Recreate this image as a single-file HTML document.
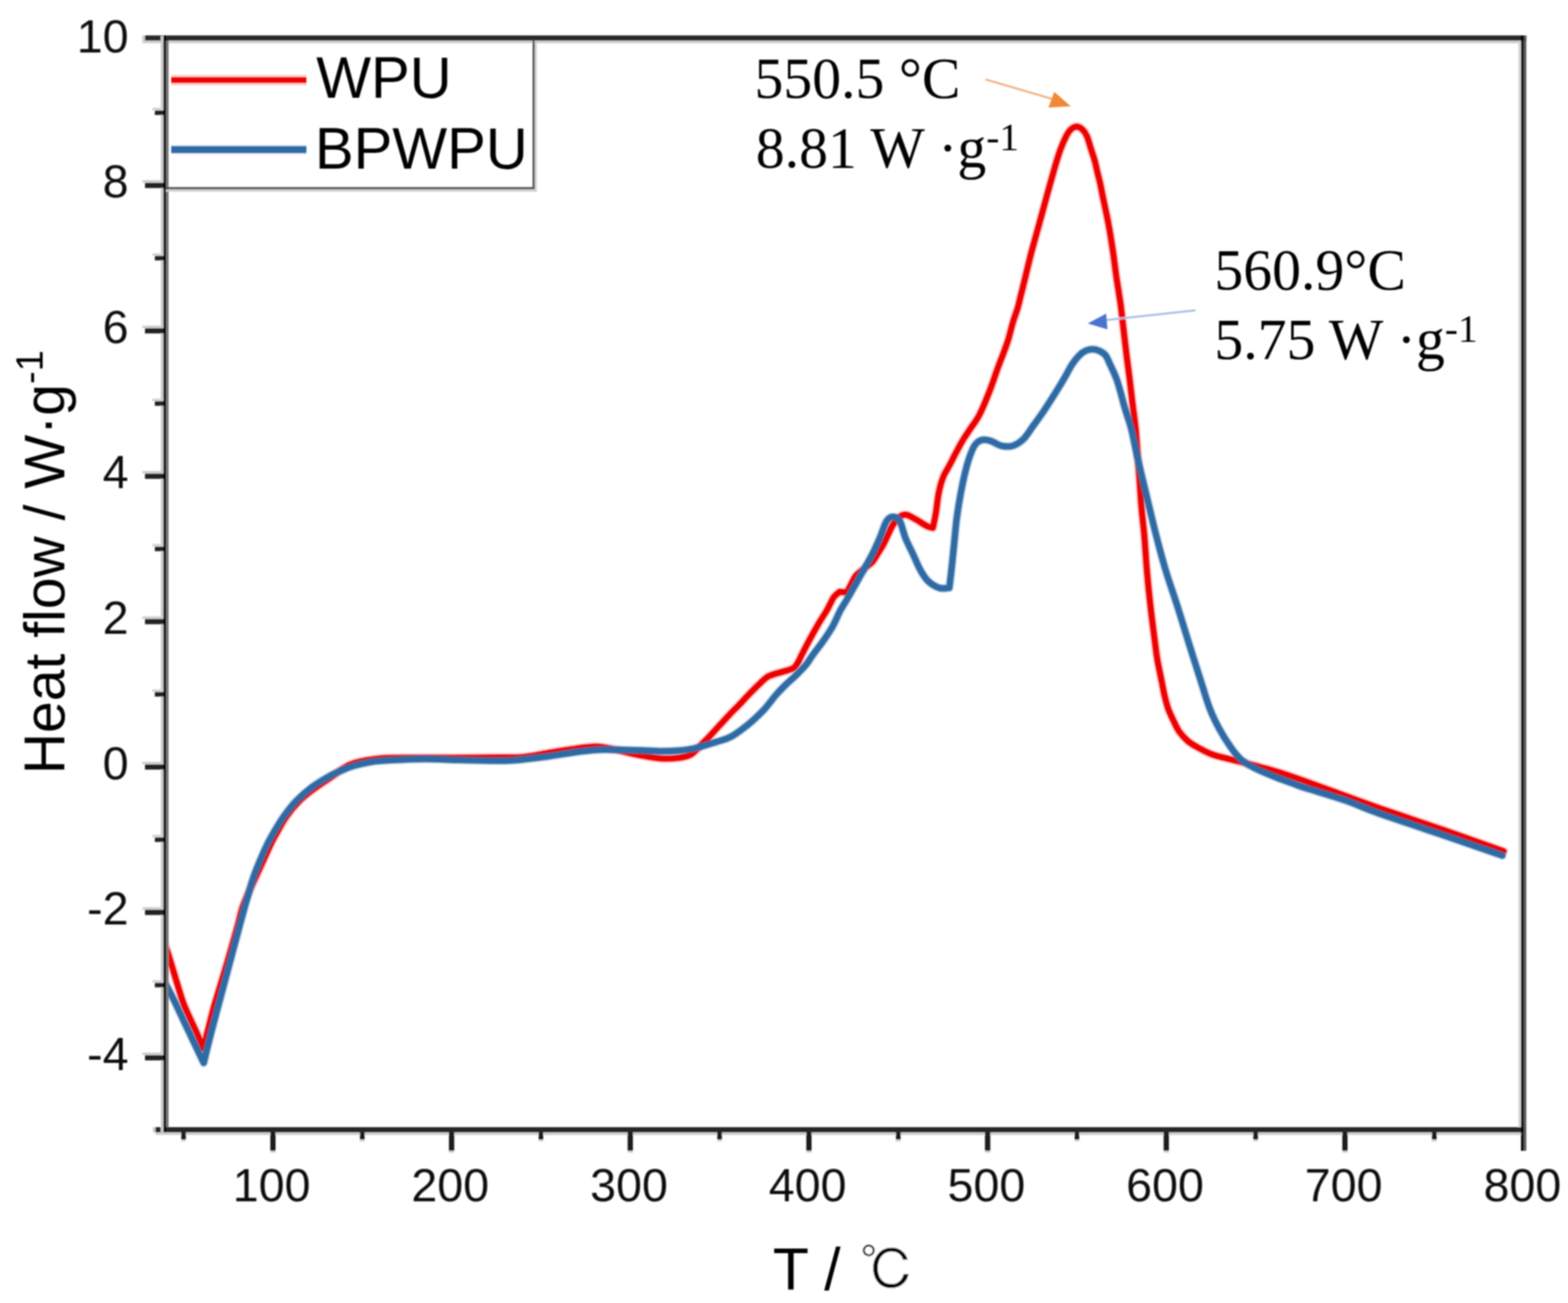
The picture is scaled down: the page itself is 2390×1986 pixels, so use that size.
<!DOCTYPE html>
<html><head><meta charset="utf-8"><title>Heat flow</title>
<style>html,body{margin:0;padding:0;background:#fff;}svg{display:block;}</style>
</head><body>
<svg width="2390" height="1986" viewBox="0 0 2390 1986">
<rect width="100%" height="100%" fill="#fff"/>
<defs><filter id="soft" x="0" y="0" width="100%" height="100%" filterUnits="userSpaceOnUse"><feGaussianBlur stdDeviation="0.9"/></filter></defs>
<g filter="url(#soft)">
<defs><clipPath id="pc"><rect x="249" y="50" width="2070" height="1670"/></clipPath></defs>
<g clip-path="url(#pc)" fill="none" stroke-linejoin="round" stroke-linecap="round">
<path d="M246.0,1425.0 C247.0,1427.7 249.5,1433.7 252.0,1441.0 C254.5,1448.3 258.0,1459.3 261.0,1469.0 C264.0,1478.7 266.9,1489.0 270.0,1499.0 C273.1,1509.0 276.2,1520.2 279.5,1529.0 C282.8,1537.8 286.1,1544.5 289.5,1552.0 C292.9,1559.5 296.2,1566.0 299.6,1573.7 C303.0,1581.4 308.3,1594.0 310.0,1598.0 C311.3,1592.7 315.3,1576.5 318.0,1566.0 C320.7,1555.5 323.2,1545.2 326.0,1535.0 C328.8,1524.8 332.0,1515.0 335.0,1505.0 C338.0,1495.0 341.0,1485.2 344.0,1475.0 C347.0,1464.8 349.9,1454.8 353.0,1444.0 C356.1,1433.2 359.7,1420.3 362.5,1410.0 C365.3,1399.7 367.1,1390.7 370.0,1382.0 C372.9,1373.3 376.5,1366.0 380.0,1358.0 C383.5,1350.0 387.3,1342.0 391.0,1334.0 C394.7,1326.0 398.3,1318.0 402.0,1310.0 C405.7,1302.0 409.8,1292.7 413.0,1286.0 C416.2,1279.3 417.6,1276.9 421.5,1270.0 C425.4,1263.1 430.8,1252.7 436.5,1244.5 C442.2,1236.3 448.9,1228.1 456.0,1221.0 C463.1,1213.9 471.0,1208.0 479.0,1202.0 C487.0,1196.0 496.8,1190.0 504.0,1185.0 C511.2,1180.0 516.0,1175.7 522.0,1172.0 C528.0,1168.3 530.3,1165.7 540.0,1163.0 C549.7,1160.3 565.0,1157.3 580.0,1156.0 C595.0,1154.7 610.0,1155.2 630.0,1155.0 C650.0,1154.8 678.3,1155.1 700.0,1155.0 C721.7,1154.9 744.0,1154.7 760.0,1154.5 C776.0,1154.3 783.7,1155.1 796.0,1154.0 C808.3,1152.9 821.5,1150.0 834.0,1148.0 C846.5,1146.0 858.5,1143.7 871.0,1142.0 C883.5,1140.3 897.5,1137.8 909.0,1138.0 C920.5,1138.2 929.8,1141.0 940.0,1143.0 C950.2,1145.0 958.7,1147.8 970.0,1150.0 C981.3,1152.2 997.2,1155.2 1008.0,1156.0 C1018.8,1156.8 1027.5,1156.0 1035.0,1155.0 C1042.5,1154.0 1047.5,1153.2 1053.0,1150.0 C1058.5,1146.8 1063.5,1140.3 1068.0,1136.0 C1072.5,1131.7 1076.3,1127.8 1080.0,1124.0 C1083.7,1120.2 1086.3,1117.0 1090.0,1113.0 C1093.7,1109.0 1098.0,1104.3 1102.0,1100.0 C1106.0,1095.7 1110.0,1091.2 1114.0,1087.0 C1118.0,1082.8 1121.7,1079.5 1126.0,1075.0 C1130.3,1070.5 1135.0,1065.2 1140.0,1060.0 C1145.0,1054.8 1150.8,1048.8 1156.0,1044.0 C1161.2,1039.2 1164.7,1034.4 1171.0,1031.0 C1177.3,1027.6 1187.7,1025.7 1194.0,1023.6 C1200.3,1021.5 1205.3,1020.8 1209.0,1018.5 C1212.7,1016.2 1213.8,1013.4 1216.0,1010.0 C1218.2,1006.6 1219.0,1003.8 1222.0,998.0 C1225.0,992.2 1229.7,983.0 1234.0,975.0 C1238.3,967.0 1243.6,957.6 1248.0,950.0 C1252.4,942.4 1256.8,936.3 1260.6,929.6 C1264.4,922.9 1267.8,914.6 1271.0,910.0 C1274.2,905.4 1278.5,903.3 1280.0,902.0 C1281.8,902.2 1289.2,902.8 1291.0,903.0 C1292.2,900.7 1295.7,893.3 1298.0,889.0 C1300.3,884.7 1301.7,880.8 1305.0,877.0 C1308.3,873.2 1313.8,869.5 1318.0,866.0 C1322.2,862.5 1326.5,860.0 1330.0,856.0 C1333.5,852.0 1336.2,846.5 1339.0,842.0 C1341.8,837.5 1344.5,833.7 1347.0,829.0 C1349.5,824.3 1351.7,818.8 1354.0,814.0 C1356.3,809.2 1358.5,804.0 1361.0,800.0 C1363.5,796.0 1366.5,792.5 1369.0,790.0 C1371.5,787.5 1373.7,785.8 1376.0,785.0 C1378.3,784.2 1379.7,783.9 1383.0,785.0 C1386.3,786.1 1391.2,789.0 1396.0,791.7 C1400.8,794.4 1407.7,799.2 1412.0,801.4 C1416.3,803.5 1420.2,804.1 1421.9,804.6 C1422.7,800.6 1425.4,788.6 1426.7,780.5 C1428.0,772.4 1428.8,763.1 1430.0,756.0 C1431.2,748.9 1432.5,743.3 1434.0,738.0 C1435.5,732.7 1437.3,727.8 1439.0,724.0 C1440.7,720.2 1442.2,718.3 1444.0,715.0 C1445.8,711.7 1448.0,707.8 1450.0,704.0 C1452.0,700.2 1454.0,695.8 1456.0,692.0 C1458.0,688.2 1460.2,684.3 1462.0,681.0 C1463.8,677.7 1465.0,675.3 1467.0,672.0 C1469.0,668.7 1471.8,664.3 1474.0,661.0 C1476.2,657.7 1476.8,656.8 1480.0,652.0 C1483.2,647.2 1488.3,641.2 1493.0,632.0 C1497.7,622.8 1503.3,609.0 1508.0,597.0 C1512.7,585.0 1517.5,570.0 1521.2,560.0 C1524.9,550.0 1527.4,544.2 1530.0,537.0 C1532.6,529.8 1534.7,524.7 1537.0,517.0 C1539.3,509.3 1541.7,498.8 1544.0,491.0 C1546.3,483.2 1549.0,476.8 1551.0,470.0 C1553.0,463.2 1554.3,456.7 1556.0,450.0 C1557.7,443.3 1559.2,437.5 1561.0,430.0 C1562.8,422.5 1565.0,413.3 1567.0,405.0 C1569.0,396.7 1570.5,390.5 1573.3,380.0 C1576.1,369.5 1580.1,355.4 1583.8,341.9 C1587.5,328.4 1592.7,309.3 1595.5,299.0 C1598.3,288.7 1599.1,285.7 1600.7,280.0 C1602.3,274.3 1603.5,270.3 1605.1,264.6 C1606.7,258.9 1608.5,252.0 1610.5,245.7 C1612.5,239.4 1614.4,233.0 1616.8,226.7 C1619.2,220.4 1622.5,212.7 1625.0,207.8 C1627.5,202.9 1629.3,200.0 1632.0,197.5 C1634.7,195.0 1638.0,193.0 1641.0,193.0 C1644.0,193.0 1647.4,195.0 1650.0,197.5 C1652.6,200.0 1654.7,202.9 1656.8,207.8 C1658.9,212.7 1660.8,220.4 1662.8,226.7 C1664.8,233.0 1667.1,239.4 1668.8,245.7 C1670.5,252.0 1671.8,258.9 1673.2,264.6 C1674.6,270.3 1675.7,274.1 1677.0,280.0 C1678.3,285.9 1678.9,289.8 1681.0,300.0 C1683.1,310.2 1686.9,327.2 1689.5,341.0 C1692.1,354.8 1694.3,369.2 1696.4,383.0 C1698.5,396.8 1699.9,410.3 1701.9,424.0 C1703.9,437.7 1706.4,451.3 1708.2,465.0 C1710.0,478.7 1711.5,493.5 1713.0,506.0 C1714.5,518.5 1715.6,528.5 1717.0,540.0 C1718.4,551.5 1720.0,562.8 1721.5,575.0 C1723.0,587.2 1724.4,599.8 1726.0,613.0 C1727.6,626.2 1729.6,639.5 1731.0,654.0 C1732.4,668.5 1733.4,685.7 1734.5,700.0 C1735.6,714.3 1736.6,727.5 1737.5,740.0 C1738.4,752.5 1738.9,762.5 1740.0,775.0 C1741.1,787.5 1742.7,799.2 1744.1,815.0 C1745.5,830.8 1746.6,851.7 1748.2,870.0 C1749.8,888.3 1751.6,906.7 1753.7,925.0 C1755.8,943.3 1758.9,966.7 1760.6,980.0 C1762.3,993.3 1762.3,995.0 1764.0,1005.0 C1765.7,1015.0 1769.2,1030.8 1771.0,1040.0 C1772.8,1049.2 1773.4,1053.3 1775.0,1060.0 C1776.6,1066.7 1778.3,1073.8 1780.5,1080.0 C1782.7,1086.2 1785.2,1091.2 1788.0,1097.0 C1790.8,1102.8 1793.3,1109.2 1797.0,1114.5 C1800.7,1119.8 1805.4,1125.0 1810.0,1129.0 C1814.6,1133.0 1818.2,1135.1 1824.5,1138.6 C1830.8,1142.1 1839.4,1146.8 1848.0,1150.0 C1856.6,1153.2 1867.7,1155.3 1876.0,1157.5 C1884.3,1159.7 1889.7,1160.8 1898.0,1163.0 C1906.3,1165.2 1916.5,1167.8 1926.0,1170.5 C1935.5,1173.2 1944.3,1175.6 1955.0,1179.0 C1965.7,1182.4 1976.8,1186.3 1990.0,1191.0 C2003.2,1195.7 2015.7,1200.3 2034.0,1207.0 C2052.3,1213.7 2072.3,1221.3 2100.0,1231.0 C2127.7,1240.7 2168.0,1253.9 2200.0,1265.0 C2232.0,1276.1 2276.7,1292.1 2292.0,1297.5" stroke="#EE0000" stroke-opacity="0.2" stroke-width="14"/>
<path d="M246.0,1425.0 C247.0,1427.7 249.5,1433.7 252.0,1441.0 C254.5,1448.3 258.0,1459.3 261.0,1469.0 C264.0,1478.7 266.9,1489.0 270.0,1499.0 C273.1,1509.0 276.2,1520.2 279.5,1529.0 C282.8,1537.8 286.1,1544.5 289.5,1552.0 C292.9,1559.5 296.2,1566.0 299.6,1573.7 C303.0,1581.4 308.3,1594.0 310.0,1598.0 C311.3,1592.7 315.3,1576.5 318.0,1566.0 C320.7,1555.5 323.2,1545.2 326.0,1535.0 C328.8,1524.8 332.0,1515.0 335.0,1505.0 C338.0,1495.0 341.0,1485.2 344.0,1475.0 C347.0,1464.8 349.9,1454.8 353.0,1444.0 C356.1,1433.2 359.7,1420.3 362.5,1410.0 C365.3,1399.7 367.1,1390.7 370.0,1382.0 C372.9,1373.3 376.5,1366.0 380.0,1358.0 C383.5,1350.0 387.3,1342.0 391.0,1334.0 C394.7,1326.0 398.3,1318.0 402.0,1310.0 C405.7,1302.0 409.8,1292.7 413.0,1286.0 C416.2,1279.3 417.6,1276.9 421.5,1270.0 C425.4,1263.1 430.8,1252.7 436.5,1244.5 C442.2,1236.3 448.9,1228.1 456.0,1221.0 C463.1,1213.9 471.0,1208.0 479.0,1202.0 C487.0,1196.0 496.8,1190.0 504.0,1185.0 C511.2,1180.0 516.0,1175.7 522.0,1172.0 C528.0,1168.3 530.3,1165.7 540.0,1163.0 C549.7,1160.3 565.0,1157.3 580.0,1156.0 C595.0,1154.7 610.0,1155.2 630.0,1155.0 C650.0,1154.8 678.3,1155.1 700.0,1155.0 C721.7,1154.9 744.0,1154.7 760.0,1154.5 C776.0,1154.3 783.7,1155.1 796.0,1154.0 C808.3,1152.9 821.5,1150.0 834.0,1148.0 C846.5,1146.0 858.5,1143.7 871.0,1142.0 C883.5,1140.3 897.5,1137.8 909.0,1138.0 C920.5,1138.2 929.8,1141.0 940.0,1143.0 C950.2,1145.0 958.7,1147.8 970.0,1150.0 C981.3,1152.2 997.2,1155.2 1008.0,1156.0 C1018.8,1156.8 1027.5,1156.0 1035.0,1155.0 C1042.5,1154.0 1047.5,1153.2 1053.0,1150.0 C1058.5,1146.8 1063.5,1140.3 1068.0,1136.0 C1072.5,1131.7 1076.3,1127.8 1080.0,1124.0 C1083.7,1120.2 1086.3,1117.0 1090.0,1113.0 C1093.7,1109.0 1098.0,1104.3 1102.0,1100.0 C1106.0,1095.7 1110.0,1091.2 1114.0,1087.0 C1118.0,1082.8 1121.7,1079.5 1126.0,1075.0 C1130.3,1070.5 1135.0,1065.2 1140.0,1060.0 C1145.0,1054.8 1150.8,1048.8 1156.0,1044.0 C1161.2,1039.2 1164.7,1034.4 1171.0,1031.0 C1177.3,1027.6 1187.7,1025.7 1194.0,1023.6 C1200.3,1021.5 1205.3,1020.8 1209.0,1018.5 C1212.7,1016.2 1213.8,1013.4 1216.0,1010.0 C1218.2,1006.6 1219.0,1003.8 1222.0,998.0 C1225.0,992.2 1229.7,983.0 1234.0,975.0 C1238.3,967.0 1243.6,957.6 1248.0,950.0 C1252.4,942.4 1256.8,936.3 1260.6,929.6 C1264.4,922.9 1267.8,914.6 1271.0,910.0 C1274.2,905.4 1278.5,903.3 1280.0,902.0 C1281.8,902.2 1289.2,902.8 1291.0,903.0 C1292.2,900.7 1295.7,893.3 1298.0,889.0 C1300.3,884.7 1301.7,880.8 1305.0,877.0 C1308.3,873.2 1313.8,869.5 1318.0,866.0 C1322.2,862.5 1326.5,860.0 1330.0,856.0 C1333.5,852.0 1336.2,846.5 1339.0,842.0 C1341.8,837.5 1344.5,833.7 1347.0,829.0 C1349.5,824.3 1351.7,818.8 1354.0,814.0 C1356.3,809.2 1358.5,804.0 1361.0,800.0 C1363.5,796.0 1366.5,792.5 1369.0,790.0 C1371.5,787.5 1373.7,785.8 1376.0,785.0 C1378.3,784.2 1379.7,783.9 1383.0,785.0 C1386.3,786.1 1391.2,789.0 1396.0,791.7 C1400.8,794.4 1407.7,799.2 1412.0,801.4 C1416.3,803.5 1420.2,804.1 1421.9,804.6 C1422.7,800.6 1425.4,788.6 1426.7,780.5 C1428.0,772.4 1428.8,763.1 1430.0,756.0 C1431.2,748.9 1432.5,743.3 1434.0,738.0 C1435.5,732.7 1437.3,727.8 1439.0,724.0 C1440.7,720.2 1442.2,718.3 1444.0,715.0 C1445.8,711.7 1448.0,707.8 1450.0,704.0 C1452.0,700.2 1454.0,695.8 1456.0,692.0 C1458.0,688.2 1460.2,684.3 1462.0,681.0 C1463.8,677.7 1465.0,675.3 1467.0,672.0 C1469.0,668.7 1471.8,664.3 1474.0,661.0 C1476.2,657.7 1476.8,656.8 1480.0,652.0 C1483.2,647.2 1488.3,641.2 1493.0,632.0 C1497.7,622.8 1503.3,609.0 1508.0,597.0 C1512.7,585.0 1517.5,570.0 1521.2,560.0 C1524.9,550.0 1527.4,544.2 1530.0,537.0 C1532.6,529.8 1534.7,524.7 1537.0,517.0 C1539.3,509.3 1541.7,498.8 1544.0,491.0 C1546.3,483.2 1549.0,476.8 1551.0,470.0 C1553.0,463.2 1554.3,456.7 1556.0,450.0 C1557.7,443.3 1559.2,437.5 1561.0,430.0 C1562.8,422.5 1565.0,413.3 1567.0,405.0 C1569.0,396.7 1570.5,390.5 1573.3,380.0 C1576.1,369.5 1580.1,355.4 1583.8,341.9 C1587.5,328.4 1592.7,309.3 1595.5,299.0 C1598.3,288.7 1599.1,285.7 1600.7,280.0 C1602.3,274.3 1603.5,270.3 1605.1,264.6 C1606.7,258.9 1608.5,252.0 1610.5,245.7 C1612.5,239.4 1614.4,233.0 1616.8,226.7 C1619.2,220.4 1622.5,212.7 1625.0,207.8 C1627.5,202.9 1629.3,200.0 1632.0,197.5 C1634.7,195.0 1638.0,193.0 1641.0,193.0 C1644.0,193.0 1647.4,195.0 1650.0,197.5 C1652.6,200.0 1654.7,202.9 1656.8,207.8 C1658.9,212.7 1660.8,220.4 1662.8,226.7 C1664.8,233.0 1667.1,239.4 1668.8,245.7 C1670.5,252.0 1671.8,258.9 1673.2,264.6 C1674.6,270.3 1675.7,274.1 1677.0,280.0 C1678.3,285.9 1678.9,289.8 1681.0,300.0 C1683.1,310.2 1686.9,327.2 1689.5,341.0 C1692.1,354.8 1694.3,369.2 1696.4,383.0 C1698.5,396.8 1699.9,410.3 1701.9,424.0 C1703.9,437.7 1706.4,451.3 1708.2,465.0 C1710.0,478.7 1711.5,493.5 1713.0,506.0 C1714.5,518.5 1715.6,528.5 1717.0,540.0 C1718.4,551.5 1720.0,562.8 1721.5,575.0 C1723.0,587.2 1724.4,599.8 1726.0,613.0 C1727.6,626.2 1729.6,639.5 1731.0,654.0 C1732.4,668.5 1733.4,685.7 1734.5,700.0 C1735.6,714.3 1736.6,727.5 1737.5,740.0 C1738.4,752.5 1738.9,762.5 1740.0,775.0 C1741.1,787.5 1742.7,799.2 1744.1,815.0 C1745.5,830.8 1746.6,851.7 1748.2,870.0 C1749.8,888.3 1751.6,906.7 1753.7,925.0 C1755.8,943.3 1758.9,966.7 1760.6,980.0 C1762.3,993.3 1762.3,995.0 1764.0,1005.0 C1765.7,1015.0 1769.2,1030.8 1771.0,1040.0 C1772.8,1049.2 1773.4,1053.3 1775.0,1060.0 C1776.6,1066.7 1778.3,1073.8 1780.5,1080.0 C1782.7,1086.2 1785.2,1091.2 1788.0,1097.0 C1790.8,1102.8 1793.3,1109.2 1797.0,1114.5 C1800.7,1119.8 1805.4,1125.0 1810.0,1129.0 C1814.6,1133.0 1818.2,1135.1 1824.5,1138.6 C1830.8,1142.1 1839.4,1146.8 1848.0,1150.0 C1856.6,1153.2 1867.7,1155.3 1876.0,1157.5 C1884.3,1159.7 1889.7,1160.8 1898.0,1163.0 C1906.3,1165.2 1916.5,1167.8 1926.0,1170.5 C1935.5,1173.2 1944.3,1175.6 1955.0,1179.0 C1965.7,1182.4 1976.8,1186.3 1990.0,1191.0 C2003.2,1195.7 2015.7,1200.3 2034.0,1207.0 C2052.3,1213.7 2072.3,1221.3 2100.0,1231.0 C2127.7,1240.7 2168.0,1253.9 2200.0,1265.0 C2232.0,1276.1 2276.7,1292.1 2292.0,1297.5" stroke="#EE0000" stroke-width="9"/>
<path d="M245.0,1485.0 C246.0,1487.0 248.0,1491.2 251.0,1497.0 C254.0,1502.8 258.0,1509.8 263.0,1520.0 C268.0,1530.2 273.1,1541.3 281.0,1558.0 C288.9,1574.7 305.6,1609.7 310.5,1620.0 C311.8,1614.8 315.4,1599.3 318.0,1589.0 C320.6,1578.7 323.3,1568.2 326.0,1558.0 C328.7,1547.8 331.3,1538.0 334.0,1528.0 C336.7,1518.0 339.3,1508.0 342.0,1498.0 C344.7,1488.0 347.3,1478.0 350.0,1468.0 C352.7,1458.0 355.3,1448.0 358.0,1438.0 C360.7,1428.0 363.5,1417.3 366.0,1408.0 C368.5,1398.7 370.7,1390.7 373.0,1382.4 C375.3,1374.1 377.5,1366.3 379.9,1358.3 C382.3,1350.3 384.5,1342.2 387.4,1334.2 C390.2,1326.2 393.6,1318.1 397.0,1310.1 C400.4,1302.1 404.5,1292.8 407.8,1286.1 C411.1,1279.4 412.5,1277.0 416.6,1270.0 C420.7,1263.0 426.7,1252.5 432.6,1244.2 C438.6,1235.9 445.2,1227.4 452.3,1220.1 C459.4,1212.8 467.1,1206.1 475.1,1200.1 C483.1,1194.1 492.9,1188.3 500.4,1184.0 C507.9,1179.7 513.4,1177.3 520.0,1174.5 C526.6,1171.7 532.2,1169.2 540.0,1167.0 C547.8,1164.8 558.2,1162.4 567.0,1161.0 C575.8,1159.6 579.7,1159.4 593.0,1158.7 C606.3,1158.0 631.3,1156.8 647.0,1156.7 C662.7,1156.6 671.5,1157.6 687.0,1158.0 C702.5,1158.4 724.5,1159.1 740.0,1159.3 C755.5,1159.5 764.3,1160.0 780.0,1159.0 C795.7,1158.0 816.7,1155.2 834.0,1153.0 C851.3,1150.8 869.5,1147.2 884.0,1145.5 C898.5,1143.8 906.7,1142.8 921.0,1142.5 C935.3,1142.2 955.5,1143.1 970.0,1143.5 C984.5,1143.9 997.2,1144.9 1008.0,1145.0 C1018.8,1145.1 1026.2,1144.8 1035.0,1144.0 C1043.8,1143.2 1051.7,1142.2 1061.0,1140.0 C1070.3,1137.8 1082.2,1133.8 1091.0,1131.0 C1099.8,1128.2 1106.3,1127.0 1114.0,1123.0 C1121.7,1119.0 1130.7,1111.8 1137.0,1107.0 C1143.3,1102.2 1147.2,1098.5 1152.0,1094.0 C1156.8,1089.5 1160.8,1085.8 1166.0,1080.0 C1171.2,1074.2 1177.8,1065.0 1183.0,1059.0 C1188.2,1053.0 1192.1,1049.1 1197.3,1044.0 C1202.5,1038.9 1208.8,1033.7 1214.0,1028.6 C1219.2,1023.5 1224.6,1018.1 1228.6,1013.3 C1232.6,1008.4 1233.8,1005.4 1238.0,999.5 C1242.2,993.6 1248.8,985.4 1254.0,978.0 C1259.2,970.6 1264.5,963.1 1269.0,955.0 C1273.5,946.9 1277.1,937.4 1281.3,929.6 C1285.5,921.9 1289.0,917.2 1294.0,908.5 C1299.0,899.8 1305.8,887.6 1311.6,877.2 C1317.4,866.8 1323.9,855.8 1328.8,846.3 C1333.7,836.8 1337.1,829.1 1340.8,820.5 C1344.5,811.9 1347.7,800.2 1351.1,794.7 C1354.5,789.2 1358.0,787.8 1361.4,787.8 C1364.8,787.8 1368.6,789.2 1371.7,794.7 C1374.8,800.2 1376.8,811.9 1380.3,820.5 C1383.8,829.1 1388.7,838.3 1392.4,846.3 C1396.1,854.3 1399.0,862.0 1402.7,868.6 C1406.4,875.2 1409.8,881.2 1414.7,885.8 C1419.6,890.4 1426.5,894.4 1431.9,896.1 C1437.3,897.8 1444.5,896.0 1447.0,896.0 C1447.6,890.6 1449.6,874.6 1450.8,863.5 C1452.0,852.4 1453.1,840.6 1454.3,829.1 C1455.5,817.6 1456.3,806.2 1457.7,794.7 C1459.1,783.2 1460.9,771.8 1462.9,760.3 C1464.9,748.8 1467.4,736.0 1469.7,726.0 C1472.0,716.0 1474.0,708.0 1476.6,700.2 C1479.2,692.5 1482.0,684.4 1485.2,679.5 C1488.4,674.6 1491.5,672.3 1495.5,671.0 C1499.5,669.7 1504.1,670.4 1509.3,671.8 C1514.5,673.2 1520.8,678.2 1526.5,679.5 C1532.2,680.8 1538.1,681.2 1543.7,679.5 C1549.3,677.8 1554.8,674.2 1560.0,669.2 C1565.2,664.2 1569.3,656.7 1574.6,649.4 C1579.9,642.1 1585.8,634.1 1591.7,625.3 C1597.7,616.4 1605.1,604.6 1610.3,596.3 C1615.5,588.0 1618.7,582.6 1622.7,575.7 C1626.7,568.8 1630.6,560.7 1634.4,555.0 C1638.2,549.3 1642.0,544.7 1645.4,541.3 C1648.8,537.9 1651.7,536.0 1655.0,534.5 C1658.3,533.0 1662.0,532.3 1665.3,532.3 C1668.6,532.3 1671.7,533.0 1675.0,534.5 C1678.3,536.0 1682.1,537.9 1684.9,541.3 C1687.7,544.7 1689.1,549.3 1691.8,555.0 C1694.5,560.7 1698.5,568.8 1701.1,575.7 C1703.7,582.6 1705.6,589.4 1707.6,596.3 C1709.6,603.2 1711.4,610.9 1713.1,617.0 C1714.8,623.1 1716.1,626.8 1718.0,633.0 C1719.9,639.2 1721.9,643.7 1724.4,654.0 C1727.0,664.3 1730.2,681.3 1733.3,695.0 C1736.4,708.7 1740.3,725.2 1742.9,736.0 C1745.5,746.8 1745.5,746.8 1748.7,760.0 C1751.9,773.2 1757.3,796.7 1762.0,815.0 C1766.7,833.3 1771.5,851.7 1777.0,870.0 C1782.5,888.3 1789.2,906.7 1795.0,925.0 C1800.8,943.3 1806.0,960.8 1812.0,980.0 C1818.0,999.2 1825.7,1023.3 1831.0,1040.0 C1836.3,1056.7 1839.5,1068.3 1844.0,1080.0 C1848.5,1091.7 1852.7,1100.2 1858.0,1110.0 C1863.3,1119.8 1870.5,1131.2 1876.0,1139.0 C1881.5,1146.8 1885.0,1151.7 1891.0,1157.0 C1897.0,1162.3 1903.7,1166.3 1912.0,1170.6 C1920.3,1174.9 1931.1,1179.2 1940.6,1183.0 C1950.1,1186.8 1960.8,1190.5 1969.0,1193.5 C1977.2,1196.5 1976.3,1196.6 1990.0,1201.0 C2003.7,1205.4 2032.7,1213.7 2051.0,1220.0 C2069.3,1226.3 2075.2,1230.2 2100.0,1239.0 C2124.8,1247.8 2168.3,1262.2 2200.0,1273.0 C2231.7,1283.8 2275.0,1298.8 2290.0,1304.0" stroke="#2E6AA4" stroke-opacity="0.3" stroke-width="13"/>
<path d="M245.0,1485.0 C246.0,1487.0 248.0,1491.2 251.0,1497.0 C254.0,1502.8 258.0,1509.8 263.0,1520.0 C268.0,1530.2 273.1,1541.3 281.0,1558.0 C288.9,1574.7 305.6,1609.7 310.5,1620.0 C311.8,1614.8 315.4,1599.3 318.0,1589.0 C320.6,1578.7 323.3,1568.2 326.0,1558.0 C328.7,1547.8 331.3,1538.0 334.0,1528.0 C336.7,1518.0 339.3,1508.0 342.0,1498.0 C344.7,1488.0 347.3,1478.0 350.0,1468.0 C352.7,1458.0 355.3,1448.0 358.0,1438.0 C360.7,1428.0 363.5,1417.3 366.0,1408.0 C368.5,1398.7 370.7,1390.7 373.0,1382.4 C375.3,1374.1 377.5,1366.3 379.9,1358.3 C382.3,1350.3 384.5,1342.2 387.4,1334.2 C390.2,1326.2 393.6,1318.1 397.0,1310.1 C400.4,1302.1 404.5,1292.8 407.8,1286.1 C411.1,1279.4 412.5,1277.0 416.6,1270.0 C420.7,1263.0 426.7,1252.5 432.6,1244.2 C438.6,1235.9 445.2,1227.4 452.3,1220.1 C459.4,1212.8 467.1,1206.1 475.1,1200.1 C483.1,1194.1 492.9,1188.3 500.4,1184.0 C507.9,1179.7 513.4,1177.3 520.0,1174.5 C526.6,1171.7 532.2,1169.2 540.0,1167.0 C547.8,1164.8 558.2,1162.4 567.0,1161.0 C575.8,1159.6 579.7,1159.4 593.0,1158.7 C606.3,1158.0 631.3,1156.8 647.0,1156.7 C662.7,1156.6 671.5,1157.6 687.0,1158.0 C702.5,1158.4 724.5,1159.1 740.0,1159.3 C755.5,1159.5 764.3,1160.0 780.0,1159.0 C795.7,1158.0 816.7,1155.2 834.0,1153.0 C851.3,1150.8 869.5,1147.2 884.0,1145.5 C898.5,1143.8 906.7,1142.8 921.0,1142.5 C935.3,1142.2 955.5,1143.1 970.0,1143.5 C984.5,1143.9 997.2,1144.9 1008.0,1145.0 C1018.8,1145.1 1026.2,1144.8 1035.0,1144.0 C1043.8,1143.2 1051.7,1142.2 1061.0,1140.0 C1070.3,1137.8 1082.2,1133.8 1091.0,1131.0 C1099.8,1128.2 1106.3,1127.0 1114.0,1123.0 C1121.7,1119.0 1130.7,1111.8 1137.0,1107.0 C1143.3,1102.2 1147.2,1098.5 1152.0,1094.0 C1156.8,1089.5 1160.8,1085.8 1166.0,1080.0 C1171.2,1074.2 1177.8,1065.0 1183.0,1059.0 C1188.2,1053.0 1192.1,1049.1 1197.3,1044.0 C1202.5,1038.9 1208.8,1033.7 1214.0,1028.6 C1219.2,1023.5 1224.6,1018.1 1228.6,1013.3 C1232.6,1008.4 1233.8,1005.4 1238.0,999.5 C1242.2,993.6 1248.8,985.4 1254.0,978.0 C1259.2,970.6 1264.5,963.1 1269.0,955.0 C1273.5,946.9 1277.1,937.4 1281.3,929.6 C1285.5,921.9 1289.0,917.2 1294.0,908.5 C1299.0,899.8 1305.8,887.6 1311.6,877.2 C1317.4,866.8 1323.9,855.8 1328.8,846.3 C1333.7,836.8 1337.1,829.1 1340.8,820.5 C1344.5,811.9 1347.7,800.2 1351.1,794.7 C1354.5,789.2 1358.0,787.8 1361.4,787.8 C1364.8,787.8 1368.6,789.2 1371.7,794.7 C1374.8,800.2 1376.8,811.9 1380.3,820.5 C1383.8,829.1 1388.7,838.3 1392.4,846.3 C1396.1,854.3 1399.0,862.0 1402.7,868.6 C1406.4,875.2 1409.8,881.2 1414.7,885.8 C1419.6,890.4 1426.5,894.4 1431.9,896.1 C1437.3,897.8 1444.5,896.0 1447.0,896.0 C1447.6,890.6 1449.6,874.6 1450.8,863.5 C1452.0,852.4 1453.1,840.6 1454.3,829.1 C1455.5,817.6 1456.3,806.2 1457.7,794.7 C1459.1,783.2 1460.9,771.8 1462.9,760.3 C1464.9,748.8 1467.4,736.0 1469.7,726.0 C1472.0,716.0 1474.0,708.0 1476.6,700.2 C1479.2,692.5 1482.0,684.4 1485.2,679.5 C1488.4,674.6 1491.5,672.3 1495.5,671.0 C1499.5,669.7 1504.1,670.4 1509.3,671.8 C1514.5,673.2 1520.8,678.2 1526.5,679.5 C1532.2,680.8 1538.1,681.2 1543.7,679.5 C1549.3,677.8 1554.8,674.2 1560.0,669.2 C1565.2,664.2 1569.3,656.7 1574.6,649.4 C1579.9,642.1 1585.8,634.1 1591.7,625.3 C1597.7,616.4 1605.1,604.6 1610.3,596.3 C1615.5,588.0 1618.7,582.6 1622.7,575.7 C1626.7,568.8 1630.6,560.7 1634.4,555.0 C1638.2,549.3 1642.0,544.7 1645.4,541.3 C1648.8,537.9 1651.7,536.0 1655.0,534.5 C1658.3,533.0 1662.0,532.3 1665.3,532.3 C1668.6,532.3 1671.7,533.0 1675.0,534.5 C1678.3,536.0 1682.1,537.9 1684.9,541.3 C1687.7,544.7 1689.1,549.3 1691.8,555.0 C1694.5,560.7 1698.5,568.8 1701.1,575.7 C1703.7,582.6 1705.6,589.4 1707.6,596.3 C1709.6,603.2 1711.4,610.9 1713.1,617.0 C1714.8,623.1 1716.1,626.8 1718.0,633.0 C1719.9,639.2 1721.9,643.7 1724.4,654.0 C1727.0,664.3 1730.2,681.3 1733.3,695.0 C1736.4,708.7 1740.3,725.2 1742.9,736.0 C1745.5,746.8 1745.5,746.8 1748.7,760.0 C1751.9,773.2 1757.3,796.7 1762.0,815.0 C1766.7,833.3 1771.5,851.7 1777.0,870.0 C1782.5,888.3 1789.2,906.7 1795.0,925.0 C1800.8,943.3 1806.0,960.8 1812.0,980.0 C1818.0,999.2 1825.7,1023.3 1831.0,1040.0 C1836.3,1056.7 1839.5,1068.3 1844.0,1080.0 C1848.5,1091.7 1852.7,1100.2 1858.0,1110.0 C1863.3,1119.8 1870.5,1131.2 1876.0,1139.0 C1881.5,1146.8 1885.0,1151.7 1891.0,1157.0 C1897.0,1162.3 1903.7,1166.3 1912.0,1170.6 C1920.3,1174.9 1931.1,1179.2 1940.6,1183.0 C1950.1,1186.8 1960.8,1190.5 1969.0,1193.5 C1977.2,1196.5 1976.3,1196.6 1990.0,1201.0 C2003.7,1205.4 2032.7,1213.7 2051.0,1220.0 C2069.3,1226.3 2075.2,1230.2 2100.0,1239.0 C2124.8,1247.8 2168.3,1262.2 2200.0,1273.0 C2231.7,1283.8 2275.0,1298.8 2290.0,1304.0" stroke="#2E6AA4" stroke-width="9.5"/>
</g>
<rect x="217.0" y="62.0" width="2109.4" height="4.0" fill="#cfcfcf"/>
<rect x="217.0" y="54.0" width="4.0" height="8.0" fill="#c8c8c8"/>
<rect x="221.0" y="54.0" width="2105.4" height="8.0" fill="#2c2c2c"/>
<rect x="237.0" y="1726.0" width="2085.4" height="4.0" fill="#cfcfcf"/>
<rect x="233.0" y="1718.0" width="4.0" height="8.0" fill="#c8c8c8"/>
<rect x="237.0" y="1718.0" width="2085.4" height="8.0" fill="#262626"/>
<rect x="245.0" y="55.0" width="4.0" height="1671.0" fill="#cccccc"/>
<rect x="253.0" y="62.0" width="4.0" height="1656.0" fill="#777777"/>
<rect x="249.0" y="54.0" width="4.0" height="1672.0" fill="#000"/>
<rect x="2314.4" y="62.0" width="4.0" height="1656.0" fill="#d4d4d4"/>
<rect x="2322.4" y="54.0" width="4.0" height="1700.0" fill="#555555"/>
<rect x="2318.4" y="54.0" width="4.0" height="1700.0" fill="#000"/>
<rect x="217.0" y="1604.2" width="32.0" height="4.0" fill="#cfcfcf"/>
<rect x="221.0" y="1608.2" width="28.0" height="8.0" fill="#222"/>
<rect x="232.0" y="1493.9" width="17.0" height="4.0" fill="#d4d4d4"/>
<rect x="236.0" y="1497.9" width="13.0" height="7.0" fill="#222"/>
<rect x="217.0" y="1382.6" width="32.0" height="4.0" fill="#cfcfcf"/>
<rect x="221.0" y="1386.6" width="28.0" height="8.0" fill="#222"/>
<rect x="232.0" y="1272.3" width="17.0" height="4.0" fill="#d4d4d4"/>
<rect x="236.0" y="1276.3" width="13.0" height="7.0" fill="#222"/>
<rect x="217.0" y="1161.0" width="32.0" height="4.0" fill="#cfcfcf"/>
<rect x="221.0" y="1165.0" width="28.0" height="8.0" fill="#222"/>
<rect x="232.0" y="1050.7" width="17.0" height="4.0" fill="#d4d4d4"/>
<rect x="236.0" y="1054.7" width="13.0" height="7.0" fill="#222"/>
<rect x="217.0" y="939.4" width="32.0" height="4.0" fill="#cfcfcf"/>
<rect x="221.0" y="943.4" width="28.0" height="8.0" fill="#222"/>
<rect x="232.0" y="829.1" width="17.0" height="4.0" fill="#d4d4d4"/>
<rect x="236.0" y="833.1" width="13.0" height="7.0" fill="#222"/>
<rect x="217.0" y="717.8" width="32.0" height="4.0" fill="#cfcfcf"/>
<rect x="221.0" y="721.8" width="28.0" height="8.0" fill="#222"/>
<rect x="232.0" y="607.5" width="17.0" height="4.0" fill="#d4d4d4"/>
<rect x="236.0" y="611.5" width="13.0" height="7.0" fill="#222"/>
<rect x="217.0" y="496.2" width="32.0" height="4.0" fill="#cfcfcf"/>
<rect x="221.0" y="500.2" width="28.0" height="8.0" fill="#222"/>
<rect x="232.0" y="385.9" width="17.0" height="4.0" fill="#d4d4d4"/>
<rect x="236.0" y="389.9" width="13.0" height="7.0" fill="#222"/>
<rect x="217.0" y="274.6" width="32.0" height="4.0" fill="#cfcfcf"/>
<rect x="221.0" y="278.6" width="28.0" height="8.0" fill="#222"/>
<rect x="232.0" y="164.3" width="17.0" height="4.0" fill="#d4d4d4"/>
<rect x="236.0" y="168.3" width="13.0" height="7.0" fill="#222"/>
<rect x="276.3" y="1726.0" width="7.0" height="11.0" fill="#1a1a1a"/>
<rect x="276.3" y="1737.0" width="7.0" height="3.0" fill="#d4d4d4"/>
<rect x="412.0" y="1726.0" width="8.0" height="28.0" fill="#1a1a1a"/>
<rect x="412.0" y="1754.0" width="8.0" height="3.0" fill="#cfcfcf"/>
<rect x="548.7" y="1726.0" width="7.0" height="11.0" fill="#1a1a1a"/>
<rect x="548.7" y="1737.0" width="7.0" height="3.0" fill="#d4d4d4"/>
<rect x="684.3" y="1726.0" width="8.0" height="28.0" fill="#1a1a1a"/>
<rect x="684.3" y="1754.0" width="8.0" height="3.0" fill="#cfcfcf"/>
<rect x="821.0" y="1726.0" width="7.0" height="11.0" fill="#1a1a1a"/>
<rect x="821.0" y="1737.0" width="7.0" height="3.0" fill="#d4d4d4"/>
<rect x="956.7" y="1726.0" width="8.0" height="28.0" fill="#1a1a1a"/>
<rect x="956.7" y="1754.0" width="8.0" height="3.0" fill="#cfcfcf"/>
<rect x="1093.3" y="1726.0" width="7.0" height="11.0" fill="#1a1a1a"/>
<rect x="1093.3" y="1737.0" width="7.0" height="3.0" fill="#d4d4d4"/>
<rect x="1229.0" y="1726.0" width="8.0" height="28.0" fill="#1a1a1a"/>
<rect x="1229.0" y="1754.0" width="8.0" height="3.0" fill="#cfcfcf"/>
<rect x="1365.7" y="1726.0" width="7.0" height="11.0" fill="#1a1a1a"/>
<rect x="1365.7" y="1737.0" width="7.0" height="3.0" fill="#d4d4d4"/>
<rect x="1501.4" y="1726.0" width="8.0" height="28.0" fill="#1a1a1a"/>
<rect x="1501.4" y="1754.0" width="8.0" height="3.0" fill="#cfcfcf"/>
<rect x="1638.0" y="1726.0" width="7.0" height="11.0" fill="#1a1a1a"/>
<rect x="1638.0" y="1737.0" width="7.0" height="3.0" fill="#d4d4d4"/>
<rect x="1773.7" y="1726.0" width="8.0" height="28.0" fill="#1a1a1a"/>
<rect x="1773.7" y="1754.0" width="8.0" height="3.0" fill="#cfcfcf"/>
<rect x="1910.4" y="1726.0" width="7.0" height="11.0" fill="#1a1a1a"/>
<rect x="1910.4" y="1737.0" width="7.0" height="3.0" fill="#d4d4d4"/>
<rect x="2046.0" y="1726.0" width="8.0" height="28.0" fill="#1a1a1a"/>
<rect x="2046.0" y="1754.0" width="8.0" height="3.0" fill="#cfcfcf"/>
<rect x="2182.7" y="1726.0" width="7.0" height="11.0" fill="#1a1a1a"/>
<rect x="2182.7" y="1737.0" width="7.0" height="3.0" fill="#d4d4d4"/>
<g font-family="Liberation Sans, Arial, sans-serif" font-size="71" fill="#111">
<text x="414.0" y="1831" text-anchor="middle">100</text>
<text x="686.3" y="1831" text-anchor="middle">200</text>
<text x="958.7" y="1831" text-anchor="middle">300</text>
<text x="1231.0" y="1831" text-anchor="middle">400</text>
<text x="1503.4" y="1831" text-anchor="middle">500</text>
<text x="1775.7" y="1831" text-anchor="middle">600</text>
<text x="2048.0" y="1831" text-anchor="middle">700</text>
<text x="2320.4" y="1831" text-anchor="middle">800</text>
<text x="196" y="1630.7" text-anchor="end">-4</text>
<text x="196" y="1409.1" text-anchor="end">-2</text>
<text x="196" y="1187.5" text-anchor="end">0</text>
<text x="196" y="965.9" text-anchor="end">2</text>
<text x="196" y="744.3" text-anchor="end">4</text>
<text x="196" y="522.7" text-anchor="end">6</text>
<text x="196" y="301.1" text-anchor="end">8</text>
<text x="196" y="79.5" text-anchor="end">10</text>
</g>
<path d="M253,290.5 H816.5 V62" fill="none" stroke="#d0d0d0" stroke-width="3.5"/>
<path d="M253,286.8 H813.4 V60" fill="none" stroke="#505050" stroke-width="3.2"/>
<line x1="261" y1="122" x2="467" y2="122" stroke="#EE0000" stroke-width="8"/>
<line x1="261" y1="122" x2="467" y2="122" stroke="#EE0000" stroke-opacity="0.22" stroke-width="16"/>
<line x1="261" y1="228" x2="467" y2="228" stroke="#2E6AA4" stroke-width="10"/>
<line x1="261" y1="228" x2="467" y2="228" stroke="#2E6AA4" stroke-opacity="0.3" stroke-width="13"/>
<g font-family="Liberation Sans, Arial, sans-serif" font-size="88.5" fill="#000">
<text x="482" y="149">WPU</text>
<text x="480" y="257">BPWPU</text>
</g>
<text x="1178" y="1966" font-family="Liberation Sans, Arial, sans-serif" font-size="90" fill="#000">T / <tspan stroke="#fff" stroke-width="0.8" font-family="IPAGothic, Noto Sans CJK JP, sans-serif" font-size="84" dx="4">℃</tspan></text>
<text transform="translate(98,1180) rotate(-90)" font-family="Liberation Sans, Arial, sans-serif" font-size="87" fill="#000">Heat flow / W·g<tspan font-size="58" dy="-33">-1</tspan></text>
<g font-family="Liberation Serif, Times New Roman, serif" font-size="88" fill="#000">
<text x="1150" y="148.5">550.5 °C</text>
<text x="1152" y="255">8.81 W ·g<tspan font-size="60" dy="-26">-1</tspan></text>
<text x="1851" y="441">560.9°C</text>
<text x="1851" y="547">5.75 W ·g<tspan font-size="60" dy="-26">-1</tspan></text>
</g>
<line x1="1502" y1="121" x2="1608" y2="152" stroke="#F2B088" stroke-width="3"/>
<polygon points="1632,162 1598,164 1607,140" fill="#F08838"/>
<line x1="1822" y1="473" x2="1684" y2="488" stroke="#A8BCE0" stroke-width="3"/>
<polygon points="1658,493 1686,478 1688,502" fill="#4A74D0"/>
</g>
</svg>
</body></html>
